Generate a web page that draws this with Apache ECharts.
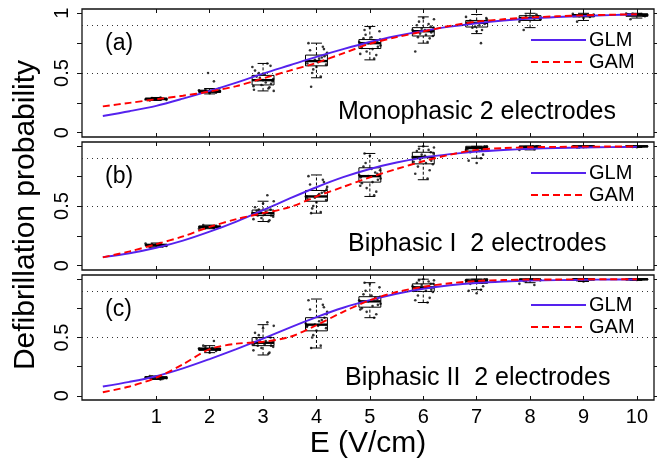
<!DOCTYPE html>
<html>
<head>
<meta charset="utf-8">
<script src="https://cdn.jsdelivr.net/npm/echarts@6/dist/echarts.min.js"></script>
<style>
    html, body { margin: 0; padding: 0; background: #fff; }
    #main { width: 657px; height: 460px; }
</style>
</head>
<body>
<div id="main"></div>
<script>
/* 数据 */
var xCurve = [0, 0.5, 1, 1.5, 2, 2.5, 3, 3.5, 4, 4.5, 5, 5.5, 6, 6.5, 7, 7.5, 8, 8.5, 9, 9.5, 10];
var glmA = [0.14, 0.18, 0.225, 0.285, 0.35, 0.42, 0.495, 0.565, 0.635, 0.70, 0.76, 0.81, 0.853, 0.888, 0.917, 0.94, 0.957, 0.969, 0.978, 0.985, 0.99];
var gamA = [0.22, 0.25, 0.28, 0.31, 0.345, 0.39, 0.455, 0.52, 0.585, 0.665, 0.745, 0.80, 0.848, 0.895, 0.93, 0.95, 0.965, 0.975, 0.983, 0.988, 0.992];
var glmB = [0.072, 0.104, 0.15, 0.21, 0.285, 0.37, 0.465, 0.563, 0.657, 0.741, 0.81, 0.864, 0.905, 0.934, 0.955, 0.969, 0.979, 0.986, 0.99, 0.993, 0.995];
var gamB = [0.07, 0.12, 0.18, 0.245, 0.325, 0.39, 0.44, 0.49, 0.58, 0.66, 0.74, 0.81, 0.875, 0.93, 0.97, 0.985, 0.992, 0.995, 0.997, 0.998, 0.999];
var glmC = [0.08, 0.12, 0.168, 0.235, 0.315, 0.40, 0.49, 0.585, 0.675, 0.755, 0.82, 0.875, 0.918, 0.948, 0.968, 0.98, 0.988, 0.992, 0.995, 0.997, 0.998];
var gamC = [0.03, 0.08, 0.155, 0.27, 0.40, 0.447, 0.463, 0.505, 0.605, 0.72, 0.82, 0.89, 0.935, 0.965, 0.985, 0.993, 0.997, 0.998, 0.999, 0.999, 1.0];

// [low, q1, median, q3, high] for E = 1..10
var boxA = [
    [0.27, 0.278, 0.283, 0.289, 0.295],
    [0.325, 0.338, 0.346, 0.356, 0.37],
    [0.35, 0.40, 0.44, 0.48, 0.58],
    [0.46, 0.56, 0.60, 0.65, 0.75],
    [0.61, 0.705, 0.75, 0.78, 0.89],
    [0.75, 0.81, 0.85, 0.88, 0.97],
    [0.83, 0.885, 0.92, 0.94, 0.99],
    [0.88, 0.94, 0.96, 0.98, 1.0],
    [0.94, 0.97, 0.982, 0.99, 1.0],
    [0.96, 0.975, 0.988, 0.995, 1.0]
];
var boxB = [
    [0.155, 0.165, 0.172, 0.18, 0.19],
    [0.31, 0.318, 0.325, 0.332, 0.34],
    [0.37, 0.42, 0.44, 0.466, 0.54],
    [0.44, 0.54, 0.58, 0.63, 0.76],
    [0.58, 0.70, 0.75, 0.82, 0.94],
    [0.72, 0.853, 0.91, 0.95, 1.0],
    [0.90, 0.96, 0.985, 1.0, 1.0],
    [0.97, 0.99, 0.997, 1.0, 1.0],
    [0.99, 0.997, 1.0, 1.0, 1.0],
    [0.99, 0.997, 1.0, 1.0, 1.0]
];
var boxC = [
    [0.14, 0.15, 0.157, 0.163, 0.17],
    [0.37, 0.39, 0.40, 0.41, 0.43],
    [0.35, 0.43, 0.455, 0.50, 0.61],
    [0.41, 0.557, 0.61, 0.67, 0.83],
    [0.67, 0.76, 0.81, 0.85, 0.97],
    [0.80, 0.895, 0.93, 0.96, 1.0],
    [0.91, 0.965, 0.985, 1.0, 1.0],
    [0.97, 0.99, 0.997, 1.0, 1.0],
    [0.98, 0.995, 1.0, 1.0, 1.0],
    [0.99, 0.997, 1.0, 1.0, 1.0]
];

// 散点
var ptsA = [
    [0.28, 0.285, 0.275, 0.29, 0.283, 0.278, 0.288, 0.282, 0.27, 0.295],
    [0.34, 0.35, 0.345, 0.36, 0.335, 0.355, 0.33, 0.348, 0.342, 0.43, 0.5, 0.37],
    [0.36, 0.42, 0.45, 0.5, 0.38, 0.55, 0.44, 0.41, 0.47, 0.58, 0.4, 0.43, 0.52, 0.37, 0.46, 0.49, 0.35, 0.44, 0.56, 0.39],
    [0.58, 0.62, 0.66, 0.5, 0.72, 0.6, 0.55, 0.64, 0.69, 0.47, 0.61, 0.57, 0.75, 0.63, 0.53, 0.59, 0.67, 0.385, 0.7, 0.6],
    [0.74, 0.7, 0.78, 0.82, 0.65, 0.76, 0.88, 0.72, 0.79, 0.62, 0.75, 0.85, 0.71, 0.77, 0.68, 0.8, 0.73, 0.86, 0.76, 0.66],
    [0.85, 0.82, 0.88, 0.93, 0.79, 0.86, 0.96, 0.84, 0.9, 0.76, 0.87, 0.81, 0.68, 0.91, 0.83, 0.86, 0.95, 0.8, 0.89, 0.84],
    [0.92, 0.9, 0.95, 0.88, 0.93, 0.97, 0.85, 0.91, 0.94, 0.75, 0.89, 0.96, 0.92, 0.86],
    [0.96, 0.97, 0.95, 0.98, 0.99, 0.93, 0.965, 0.975, 0.86, 0.955],
    [0.98, 0.985, 0.99, 0.975, 0.97, 0.995, 0.96, 0.983, 0.93, 0.988],
    [0.99, 0.992, 0.985, 0.995, 0.98, 0.997, 0.988, 0.975, 0.95, 0.993]
];
var ptsB = [
    [0.17, 0.175, 0.165, 0.18, 0.16, 0.185, 0.172, 0.168, 0.155, 0.19],
    [0.32, 0.33, 0.325, 0.315, 0.335, 0.31, 0.328, 0.322, 0.34, 0.318],
    [0.43, 0.45, 0.41, 0.47, 0.38, 0.44, 0.52, 0.42, 0.46, 0.59, 0.4, 0.44, 0.49, 0.37, 0.45, 0.43, 0.54, 0.42, 0.47, 0.39],
    [0.56, 0.6, 0.64, 0.48, 0.72, 0.58, 0.53, 0.62, 0.68, 0.45, 0.57, 0.55, 0.75, 0.61, 0.5, 0.59, 0.66, 0.44, 0.7, 0.58],
    [0.74, 0.7, 0.8, 0.86, 0.62, 0.76, 0.92, 0.72, 0.83, 0.59, 0.75, 0.88, 0.69, 0.78, 0.65, 0.81, 0.73, 0.94, 0.77, 0.67],
    [0.9, 0.86, 0.94, 0.98, 0.8, 0.91, 1.0, 0.88, 0.96, 0.73, 0.93, 0.85, 0.77, 0.97, 0.89, 0.92, 0.99, 0.83, 0.95, 0.87],
    [0.98, 0.96, 1.0, 0.99, 0.93, 0.97, 0.86, 1.0, 0.95, 0.9, 0.99, 0.98, 0.88, 0.97],
    [0.99, 1.0, 0.995, 0.98, 1.0, 0.97, 0.99, 1.0, 0.985, 0.975],
    [1.0, 0.995, 1.0, 0.99, 1.0, 0.998, 0.993, 1.0, 0.99, 0.997],
    [1.0, 0.997, 1.0, 0.995, 1.0, 0.999, 0.993, 1.0, 0.996, 0.998]
];
var ptsC = [
    [0.155, 0.16, 0.15, 0.165, 0.145, 0.158, 0.162, 0.152, 0.17, 0.14],
    [0.4, 0.41, 0.395, 0.42, 0.385, 0.405, 0.37, 0.4, 0.43, 0.47],
    [0.44, 0.47, 0.42, 0.52, 0.37, 0.45, 0.58, 0.43, 0.49, 0.63, 0.41, 0.46, 0.54, 0.36, 0.48, 0.44, 0.6, 0.43, 0.5, 0.39],
    [0.6, 0.64, 0.7, 0.5, 0.78, 0.62, 0.56, 0.67, 0.74, 0.43, 0.61, 0.58, 0.82, 0.65, 0.52, 0.6, 0.72, 0.41, 0.76, 0.59],
    [0.8, 0.77, 0.85, 0.9, 0.7, 0.82, 0.96, 0.78, 0.87, 0.67, 0.81, 0.93, 0.75, 0.84, 0.72, 0.86, 0.79, 0.97, 0.83, 0.74],
    [0.93, 0.9, 0.96, 0.99, 0.84, 0.94, 1.0, 0.91, 0.97, 0.8, 0.95, 0.89, 0.82, 0.98, 0.92, 0.93, 0.99, 0.86, 0.96, 0.9],
    [0.99, 0.97, 1.0, 0.98, 0.94, 0.99, 0.88, 1.0, 0.96, 0.91, 0.99, 0.98, 0.9, 0.97],
    [0.995, 1.0, 0.99, 0.98, 1.0, 0.96, 0.995, 1.0, 0.985, 0.95],
    [1.0, 0.995, 1.0, 0.99, 1.0, 0.998, 0.98, 1.0, 0.99, 0.997],
    [1.0, 0.997, 1.0, 0.995, 1.0, 0.999, 0.993, 1.0, 0.996, 0.998]
];
// horizontal jitter of the points (E units)
var jitter = [-0.17, 0.05, 0.19, -0.08, 0.12, -0.2, 0.0, 0.15, -0.12, 0.08, -0.03, 0.18, -0.15, 0.1, -0.06, 0.03, 0.2, -0.1, 0.14, -0.18];

var xTicks = [1, 2, 3, 4, 5, 6, 7, 8, 9, 10];
var yTicks = [0, 0.25, 0.5, 0.75, 1];
var yLabelsTop = [0, 0.5, 1];
var yLabelsRest = [0, 0.5];
var refLines = [0.5, 0.9];
var panelTags = ['(a)', '(b)', '(c)'];
var panelNames = ['Monophasic 2 electrodes', 'Biphasic I  2 electrodes', 'Biphasic II  2 electrodes'];

var FONT = '"Liberation Sans", Arial, Helvetica, sans-serif';
var GLM_COLOR = '#5522ee';
var GAM_COLOR = '#ff0000';

var panels = [
    {top: 9, glm: glmA, gam: gamA, box: boxA, pts: ptsA, yLabels: yLabelsTop, tagY: 44, nameX: 338, nameY: 112, legendTop: 30},
    {top: 142, glm: glmB, gam: gamB, box: boxB, pts: ptsB, yLabels: yLabelsRest, tagY: 177, nameX: 348, nameY: 244, legendTop: 163},
    {top: 275, glm: glmC, gam: gamC, box: boxC, pts: ptsC, yLabels: yLabelsRest, tagY: 310, nameX: 345, nameY: 378, legendTop: 295}
];

function pairs(xs, ys) {
    var out = [];
    for (var i = 0; i < xs.length; i++) {
        out.push([xs[i], ys[i]]);
    }
    return out;
}

function boxData(box) {
    var out = [];
    for (var i = 0; i < box.length; i++) {
        out.push([i + 1].concat(box[i]));
    }
    return out;
}

function pointData(pts) {
    var out = [];
    for (var i = 0; i < pts.length; i++) {
        for (var k = 0; k < pts[i].length; k++) {
            out.push([i + 1 + jitter[k % jitter.length], pts[i][k]]);
        }
    }
    return out;
}

/* 箱线 */
function renderBox(params, api) {
    var x = api.value(0);
    var lo = api.coord([x, api.value(1)]);
    var q1 = api.coord([x, api.value(2)]);
    var md = api.coord([x, api.value(3)]);
    var q3 = api.coord([x, api.value(4)]);
    var hi = api.coord([x, api.value(5)]);
    var half = api.size([0.41, 0])[0] / 2;
    var cap = half / 2;
    var dash = {stroke: '#000', lineWidth: 1, lineDash: [3, 2]};
    var solid = {stroke: '#000', lineWidth: 1};
    return {
        type: 'group',
        children: [
            {type: 'line', shape: {x1: lo[0], y1: lo[1], x2: q1[0], y2: q1[1]}, style: dash},
            {type: 'line', shape: {x1: q3[0], y1: q3[1], x2: hi[0], y2: hi[1]}, style: dash},
            {type: 'line', shape: {x1: lo[0] - cap, y1: lo[1], x2: lo[0] + cap, y2: lo[1]}, style: solid},
            {type: 'line', shape: {x1: hi[0] - cap, y1: hi[1], x2: hi[0] + cap, y2: hi[1]}, style: solid},
            {type: 'rect', shape: {x: q3[0] - half, y: q3[1], width: half * 2, height: q1[1] - q3[1]},
                style: {fill: 'none', stroke: '#000', lineWidth: 1}},
            {type: 'line', shape: {x1: md[0] - half, y1: md[1], x2: md[0] + half, y2: md[1]},
                style: {stroke: '#000', lineWidth: 2.4}}
        ]
    };
}

var grids = [], xAxes = [], yAxes = [], series = [], legends = [], texts = [];
var tickStyle = {color: '#111', width: 1};

panels.forEach(function (p, i) {
    grids.push({
        left: 82, right: 3, top: p.top, height: 128,
        show: true, borderColor: '#111', borderWidth: 1.3, backgroundColor: 'transparent'
    });
    var last = i === panels.length - 1;
    // bottom x axis
    xAxes.push({
        type: 'value', gridIndex: i, position: 'bottom', min: -0.39, max: 10.32,
        axisLine: {show: false, onZero: false},
        splitLine: {show: false},
        axisTick: {show: true, inside: true, length: 4, customValues: xTicks, lineStyle: tickStyle},
        axisLabel: {show: last, customValues: xTicks, margin: 7, fontSize: 20, color: '#000', fontFamily: FONT},
        name: last ? 'E (V/cm)' : '',
        nameLocation: 'middle', nameGap: 29,
        nameTextStyle: {fontSize: 30, color: '#000', fontFamily: FONT}
    });
    // top x axis, ticks only
    xAxes.push({
        type: 'value', gridIndex: i, position: 'top', min: -0.39, max: 10.32,
        axisLine: {show: false, onZero: false},
        splitLine: {show: false},
        axisTick: {show: true, inside: true, length: 4, customValues: xTicks, lineStyle: tickStyle},
        axisLabel: {show: false}
    });
    yAxes.push({
        type: 'value', gridIndex: i, position: 'left', min: -0.036, max: 1.036,
        axisLine: {show: false, onZero: false},
        splitLine: {show: false},
        axisTick: {show: true, length: 5, customValues: yTicks, lineStyle: tickStyle},
        axisLabel: {show: true, customValues: p.yLabels, rotate: 90, margin: 10,
            fontSize: 20, color: '#000', fontFamily: FONT}
    });
    yAxes.push({
        type: 'value', gridIndex: i, position: 'right', min: -0.036, max: 1.036,
        axisLine: {show: false, onZero: false},
        splitLine: {show: false},
        axisTick: {show: true, length: 5, customValues: yTicks, lineStyle: tickStyle},
        axisLabel: {show: false}
    });

    var xi = i * 2, yi = i * 2;
    series.push({
        type: 'custom', xAxisIndex: xi, yAxisIndex: yi,
        renderItem: renderBox, data: boxData(p.box), silent: true, z: 2,
        encode: {x: 0, y: [1, 2, 3, 4, 5]}
    });
    series.push({
        type: 'scatter', xAxisIndex: xi, yAxisIndex: yi,
        data: pointData(p.pts), symbolSize: 2.6, silent: true, z: 3,
        itemStyle: {color: '#000'},
        markLine: {
            silent: true, symbol: 'none', label: {show: false},
            lineStyle: {color: '#333', type: [1, 4], width: 1.2},
            data: refLines.map(function (v) { return {yAxis: v}; })
        }
    });
    series.push({
        name: 'GLM', type: 'line', xAxisIndex: xi, yAxisIndex: yi,
        data: pairs(xCurve, p.glm), smooth: 0.3,
        symbol: 'none', showSymbol: false, silent: true, z: 4,
        lineStyle: {color: GLM_COLOR, width: 1.9},
        itemStyle: {color: GLM_COLOR}
    });
    series.push({
        name: 'GAM', type: 'line', xAxisIndex: xi, yAxisIndex: yi,
        data: pairs(xCurve, p.gam), smooth: 0.3,
        symbol: 'none', showSymbol: false, silent: true, z: 5,
        lineStyle: {color: GAM_COLOR, width: 1.9, type: [7, 4]},
        itemStyle: {color: GAM_COLOR}
    });

    legends.push({
        data: ['GLM', 'GAM'], orient: 'vertical', left: 530, top: p.legendTop,
        padding: 0, itemGap: 2, itemWidth: 55, itemHeight: 14,
        selectedMode: false,
        itemStyle: {opacity: 0},
        textStyle: {fontSize: 20, color: '#000', fontFamily: FONT, padding: [0, 0, 0, -2]}
    });

    texts.push({
        type: 'text', x: 105, y: p.tagY,
        style: {text: panelTags[i], font: '23px ' + FONT, fill: '#000', align: 'left', verticalAlign: 'middle'}
    });
    texts.push({
        type: 'text', x: p.nameX, y: p.nameY,
        style: {text: panelNames[i], font: '25px ' + FONT, fill: '#000', align: 'left', verticalAlign: 'middle'}
    });
});

texts.push({
    type: 'text', x: 26, y: 215, rotation: Math.PI / 2,
    style: {text: 'Defibrillation probability', font: '30px ' + FONT, fill: '#000', align: 'center', verticalAlign: 'middle'}
});

var myChart = echarts.init(document.getElementById('main'), null, {renderer: 'canvas'});
var option = {
    backgroundColor: '#fff',
    animation: false,
    textStyle: {fontFamily: FONT},
    grid: grids,
    xAxis: xAxes,
    yAxis: yAxes,
    legend: legends,
    graphic: texts,
    series: series
};
myChart.setOption(option);
</script>
</body>
</html>
